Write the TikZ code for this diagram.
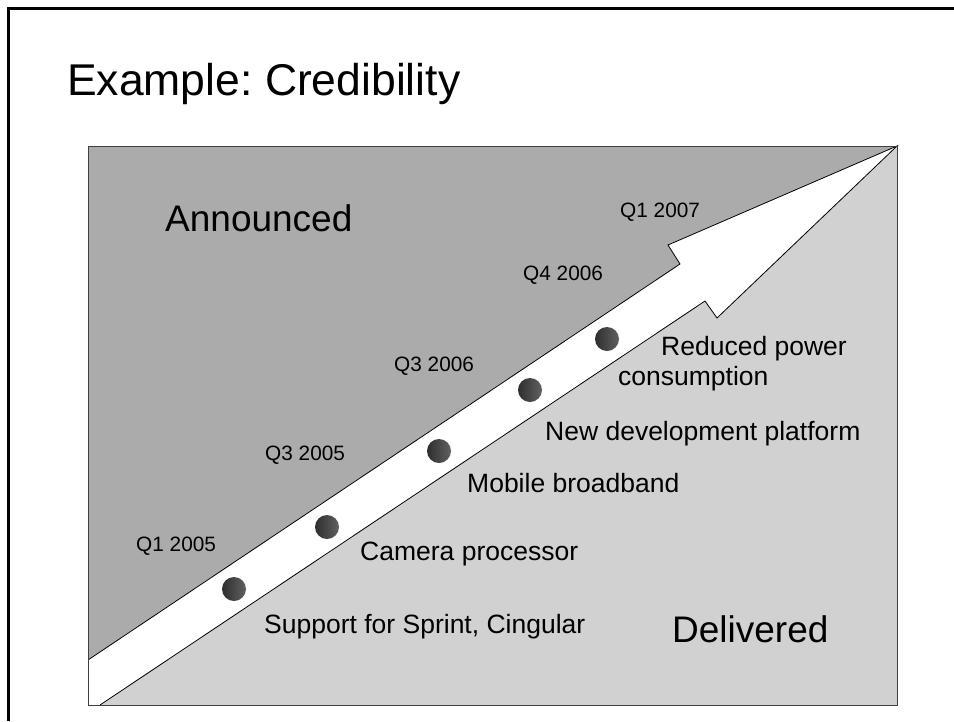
\documentclass[tikz,border=0pt]{standalone}
\usepackage{fontspec}
\setmainfont{Liberation Sans}
\frenchspacing
\begin{document}
\begin{tikzpicture}[x=1pt,y=-1pt,
  lbl/.style={inner sep=0pt,anchor=base west,font=\fontsize{20.8}{25}\selectfont},
  item/.style={inner sep=0pt,anchor=base west,font=\fontsize{26.5}{30}\selectfont},
  big/.style={inner sep=0pt,anchor=base west,font=\fontsize{37}{44}\selectfont},
  ttl/.style={inner sep=0pt,anchor=base west,font=\fontsize{44.5}{50}\selectfont},
  ball/.style={circle,minimum size=24pt,inner sep=0pt,left color=black!82,right color=black!62}]
\useasboundingbox (0,0) rectangle (954,721);
\fill[white] (0,0) rectangle (954,721);
% slide frame
\draw[line width=2.5pt] (8.5,721) -- (8.5,8.5) -- (954,8.5);
% title
\node[ttl] (title) at (67,95) {Example: Credibility};
% regions
\fill[black!18] (88,146) rectangle (897,705);
\fill[black!33] (88,146) -- (897,146) -- (668,245) -- (680,264) -- (88,660) -- cycle;
% arrow
\fill[white] (88,660) -- (680,264) -- (668,245) -- (897,146) -- (717,318) -- (705,301) -- (100,705) -- (88,705) -- cycle;
\draw[line width=0.8pt] (88,660) -- (680,264) -- (668,245) -- (897,146) -- (717,318) -- (705,301) -- (100,705);
\draw[black!75,line width=1pt] (88,146) rectangle (897,705);
% dots
\node[ball] (d1) at (234,589) {};
\node[ball] (d2) at (327,527) {};
\node[ball] (d3) at (439,451) {};
\node[ball] (d4) at (530,390) {};
\node[ball] (d5) at (607,339) {};
% labels
\node[big] (ann) at (165,231) {Announced};
\node[big] (del) at (672,642) {Delivered};
\node[lbl] (q1) at (136,551) {Q1 2005};
\node[lbl] (q2) at (265,460) {Q3 2005};
\node[lbl] (q3) at (394,371) {Q3 2006};
\node[lbl] (q4) at (523,280) {Q4 2006};
\node[lbl] (q5) at (620,217) {Q1 2007};
\node[item] (i1) at (264,633) {Support for Sprint, Cingular};
\node[item] (i2) at (360,560) {Camera processor};
\node[item] (i3) at (467,492) {Mobile broadband};
\node[item] (i4) at (545,440) {New development platform};
\node[item] (i5a) at (661,355) {Reduced power};
\node[item] (i5b) at (618,385) {consumption};
\end{tikzpicture}
\end{document}
